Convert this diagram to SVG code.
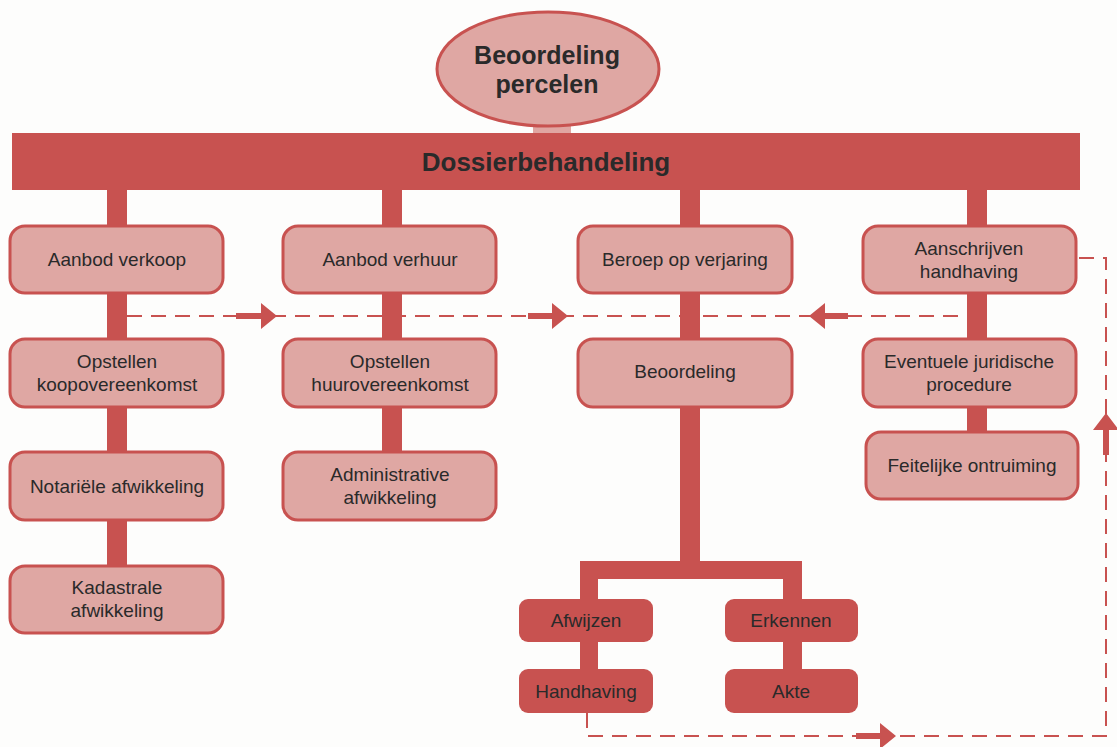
<svg xmlns="http://www.w3.org/2000/svg" width="1117" height="747" viewBox="0 0 1117 747">
<style>
.bx{fill:#dfa7a3;stroke:#c85250;stroke-width:3}
.dk{fill:#c85250}
.t{font-family:"Liberation Sans",Arial,sans-serif;font-size:19px;fill:#2a2a2a;text-anchor:middle}
.tb{font-family:"Liberation Sans",Arial,sans-serif;font-weight:bold;font-size:26px;fill:#2a2a2a;text-anchor:middle}
.te{font-family:"Liberation Sans",Arial,sans-serif;font-weight:bold;font-size:25px;fill:#2a2a2a;text-anchor:middle}
.stem{fill:#c85250}
.dash{fill:none;stroke:#c85250;stroke-width:2;stroke-dasharray:15 9}
.arr{fill:#c85250}
</style>
<rect x="0" y="0" width="1117" height="747" fill="#fdfdfc"/>
<g id="connectors">
<rect x="533" y="118" width="38" height="18" fill="#e0a6a2"/>
<rect class="stem" x="107" y="188" width="20" height="380"/>
<rect class="stem" x="382" y="188" width="20" height="266"/>
<rect class="stem" x="680" y="188" width="20" height="382"/>
<rect class="stem" x="967" y="188" width="20" height="246"/>
<rect class="stem" x="580" y="561" width="222" height="18"/>
<rect class="stem" x="580" y="561" width="18" height="110"/>
<rect class="stem" x="783" y="561" width="19" height="110"/>
<path class="dash" d="M127 316 H968"/>
<path class="dash" d="M587 713 V736 H1106 V258 H1076"/>
<polygon class="arr" points="236,313 261,313 261,303 277,316 261,329 261,319 236,319"/>
<polygon class="arr" points="528,313 552,313 552,303 568,316 552,329 552,319 528,319"/>
<polygon class="arr" points="848,313 825,313 825,303 809,316 825,329 825,319 848,319"/>
<polygon class="arr" points="1103,455 1103,430 1093,430 1106,413 1119,430 1109,430 1109,455"/>
<polygon class="arr" points="856,733 880,733 880,723 896,736 880,749 880,739 856,739"/>
</g>
<g id="root">
<ellipse cx="548" cy="69" rx="111" ry="57" fill="#dfa7a3" stroke="#c85250" stroke-width="3"/>
<text class="te" x="547" y="64">Beoordeling</text>
<text class="te" x="547" y="93">percelen</text>
</g>
<g id="dossier">
<rect class="dk" x="12" y="133" width="1068" height="57"/>
<text class="tb" x="546" y="171">Dossierbehandeling</text>
</g>
<g id="aanbod-verkoop"><rect class="bx" x="10" y="226" width="213" height="67" rx="15"/><text class="t" x="117" y="266">Aanbod verkoop</text></g>
<g id="opstellen-koop"><rect class="bx" x="10" y="339" width="213" height="68" rx="15"/><text class="t" x="117" y="368">Opstellen</text><text class="t" x="117" y="391">koopovereenkomst</text></g>
<g id="notariele"><rect class="bx" x="10" y="452" width="213" height="68" rx="15"/><text class="t" x="117" y="493">Notariële afwikkeling</text></g>
<g id="kadastrale"><rect class="bx" x="10" y="566" width="213" height="67" rx="15"/><text class="t" x="117" y="594">Kadastrale</text><text class="t" x="117" y="617">afwikkeling</text></g>
<g id="aanbod-verhuur"><rect class="bx" x="283" y="226" width="213" height="67" rx="15"/><text class="t" x="390" y="266">Aanbod verhuur</text></g>
<g id="opstellen-huur"><rect class="bx" x="283" y="339" width="213" height="68" rx="15"/><text class="t" x="390" y="368">Opstellen</text><text class="t" x="390" y="391">huurovereenkomst</text></g>
<g id="administrative"><rect class="bx" x="283" y="452" width="213" height="68" rx="15"/><text class="t" x="390" y="481">Administrative</text><text class="t" x="390" y="504">afwikkeling</text></g>
<g id="beroep"><rect class="bx" x="578" y="226" width="214" height="67" rx="15"/><text class="t" x="685" y="266">Beroep op verjaring</text></g>
<g id="beoordeling"><rect class="bx" x="578" y="339" width="214" height="68" rx="15"/><text class="t" x="685" y="378">Beoordeling</text></g>
<g id="aanschrijven"><rect class="bx" x="863" y="226" width="213" height="67" rx="15"/><text class="t" x="969" y="255">Aanschrijven</text><text class="t" x="969" y="278">handhaving</text></g>
<g id="eventuele"><rect class="bx" x="863" y="339" width="213" height="68" rx="15"/><text class="t" x="969" y="368">Eventuele juridische</text><text class="t" x="969" y="391">procedure</text></g>
<g id="feitelijke"><rect class="bx" x="866" y="432" width="212" height="67" rx="15"/><text class="t" x="972" y="472">Feitelijke ontruiming</text></g>
<g id="afwijzen"><rect class="dk" x="519" y="599" width="134" height="43" rx="9"/><text class="t" x="586" y="627">Afwijzen</text></g>
<g id="erkennen"><rect class="dk" x="725" y="599" width="133" height="43" rx="9"/><text class="t" x="791" y="627">Erkennen</text></g>
<g id="handhaving"><rect class="dk" x="519" y="669" width="134" height="44" rx="9"/><text class="t" x="586" y="698">Handhaving</text></g>
<g id="akte"><rect class="dk" x="725" y="669" width="133" height="44" rx="9"/><text class="t" x="791" y="698">Akte</text></g>
</svg>
